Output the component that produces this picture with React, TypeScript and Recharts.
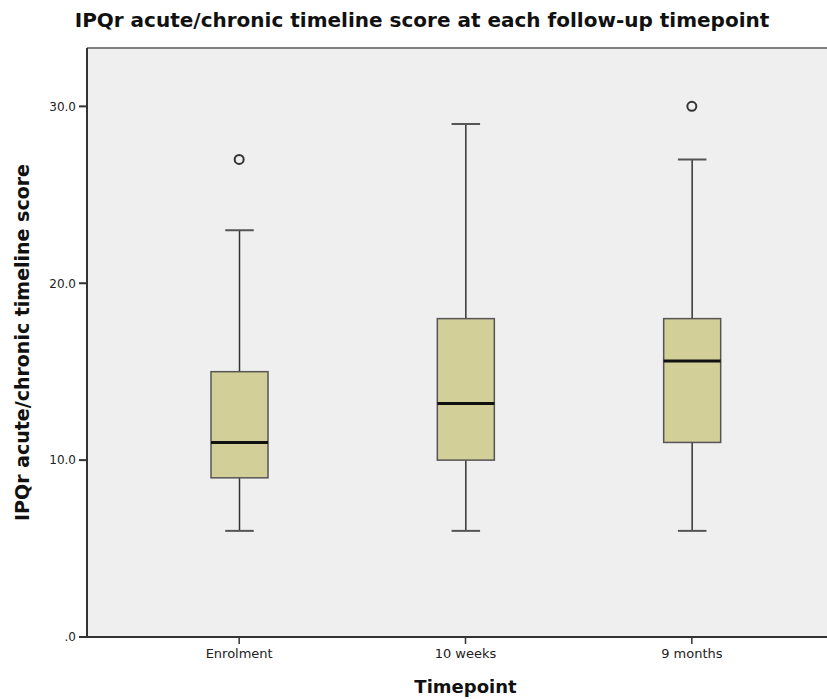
import React from 'react';
import { ComposedChart, Bar, Scatter, XAxis, YAxis, CartesianGrid, ReferenceLine } from 'recharts';

const categories = ['Enrolment', '10 weeks', '9 months'];
const minValues = [6, 6, 6];
const q1Values = [9, 10, 11];
const medianValues = [11, 13.2, 15.6];
const q3Values = [15, 18, 18];
const maxValues = [23, 29, 27];
const outlierValues: (number | null)[] = [27, null, 30];
const yTicks = [0, 10, 20, 30];

const data = categories.map((name, i) => ({
    name,
    range: [minValues[i], maxValues[i]],
    q1: q1Values[i],
    median: medianValues[i],
    q3: q3Values[i],
    outlier: outlierValues[i],
}));

const FONT = '"DejaVu Sans", sans-serif';

// whisker + box + median, positioned inside the [min, max] range bar
const BoxShape = (props: any) => {
    const { x, y, width, height, payload } = props;
    const [lo, hi] = payload.range;
    const top = height >= 0 ? y : y + height;
    const ppu = Math.abs(height) / (hi - lo);
    const py = (v: number) => top + (hi - v) * ppu;
    const cx = x + width / 2;
    const cap = width / 2;
    return (
        <g>
            <line x1={cx} x2={cx} y1={py(hi)} y2={py(lo)} stroke="#333" strokeWidth={1.5} />
            <line x1={cx - cap / 2} x2={cx + cap / 2} y1={py(hi)} y2={py(hi)} stroke="#555" strokeWidth={2} />
            <line x1={cx - cap / 2} x2={cx + cap / 2} y1={py(lo)} y2={py(lo)} stroke="#555" strokeWidth={2} />
            <rect x={x} y={py(payload.q3)} width={width} height={py(payload.q1) - py(payload.q3)}
                fill="#D3CF99" stroke="#555" strokeWidth={1.5} />
            <line x1={x} x2={x + width} y1={py(payload.median)} y2={py(payload.median)} stroke="#111" strokeWidth={3} />
        </g>
    );
};

const OutlierShape = (props: any) => {
    const { cx, cy, payload } = props;
    if (payload == null || payload.outlier == null || !isFinite(cy)) return <g />;
    return <circle cx={cx} cy={cy} r={4.5} fill="none" stroke="#333" strokeWidth={2} />;
};

export default function App() {
    return (
        <div style={{ position: 'fixed', left: 0, top: 0, width: 827, height: 699, overflow: 'hidden', background: '#fff' }}>
            <div style={{
                position: 'absolute', left: 0, top: 8, width: 844, textAlign: 'center',
                fontFamily: FONT, fontWeight: 'bold', fontSize: 20, color: '#111',
            }}>
                IPQr acute/chronic timeline score at each follow-up timepoint
            </div>
            <ComposedChart width={860} height={699} data={data} margin={{ top: 48, right: 16, bottom: 0, left: 0 }}>
                <CartesianGrid fill="#EFEFEF" horizontal={false} vertical={false} />
                <ReferenceLine y={33.3} stroke="#808080" strokeWidth={2} />
                <XAxis dataKey="name" padding={{ left: 39, right: 39 }} height={62}
                    tickSize={7} tickMargin={5}
                    axisLine={{ stroke: '#333', strokeWidth: 2 }} tickLine={{ stroke: '#333', strokeWidth: 1.5 }}
                    tick={{ fill: '#222', fontSize: 13, fontFamily: FONT }}
                    label={{ value: 'Timepoint', position: 'insideBottom', offset: 6, fill: '#111', fontSize: 18, fontWeight: 'bold', fontFamily: FONT }} />
                <YAxis type="number" domain={[0, 33.3]} ticks={yTicks} allowDataOverflow width={87}
                    tickSize={8} tickMargin={3}
                    tickFormatter={(v: number) => (v === 0 ? '.0' : v.toFixed(1))}
                    axisLine={{ stroke: '#333', strokeWidth: 2 }} tickLine={{ stroke: '#333', strokeWidth: 2 }}
                    tick={{ fill: '#222', fontSize: 12, fontFamily: FONT }}
                    label={{ value: 'IPQr acute/chronic timeline score', angle: -90, position: 'insideLeft', offset: 22,
                        style: { textAnchor: 'middle' }, fill: '#111', fontSize: 19, fontWeight: 'bold', fontFamily: FONT }} />
                <Bar dataKey="range" barSize={57} shape={BoxShape} isAnimationActive={false} />
                <Scatter dataKey="outlier" shape={OutlierShape} isAnimationActive={false} />
            </ComposedChart>
        </div>
    );
}
